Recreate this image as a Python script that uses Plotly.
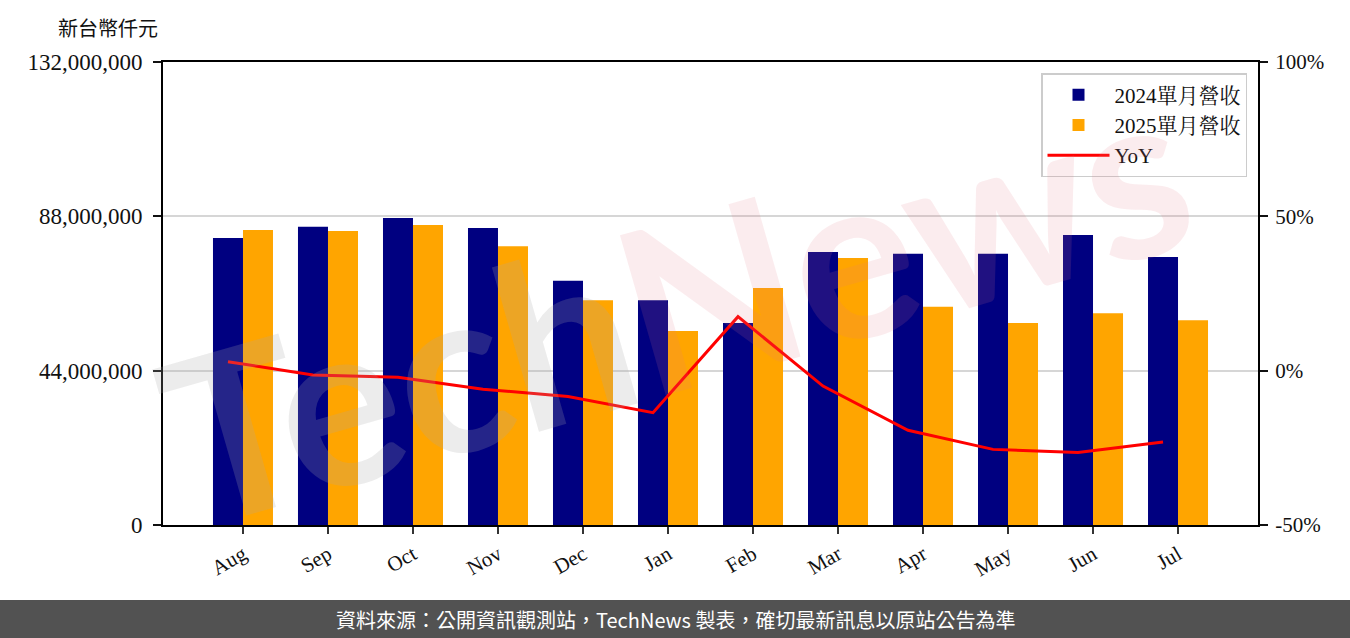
import plotly.graph_objects as go

months = ["Aug", "Sep", "Oct", "Nov", "Dec", "Jan", "Feb", "Mar", "Apr", "May", "Jun", "Jul"]
rev_2024 = [81.8e6, 85.0e6, 87.5e6, 84.7e6, 69.6e6, 64.1e6, 57.6e6, 77.8e6, 77.3e6, 77.3e6, 82.7e6, 76.4e6]
rev_2025 = [84.1e6, 83.8e6, 85.5e6, 79.5e6, 64.1e6, 55.3e6, 67.6e6, 76.1e6, 62.2e6, 57.6e6, 60.4e6, 58.4e6]
yoy = [2.9, -1.4, -2.1, -6.0, -8.4, -13.6, 17.5, -5.0, -19.3, -25.5, -26.5, -23.1]

left_ticks = [0, 44_000_000, 88_000_000, 132_000_000]
right_ticks = [-50, 0, 50, 100]

W, H = 1350, 638
L, R, T, B = 163, 92, 62, 113
pw, ph = W - L - R, H - T - B

serif = "Liberation Serif, Noto Serif CJK TC, Noto Sans CJK TC, serif"
sans = "Noto Sans CJK TC, Noto Sans, sans-serif"

BW = 0.353
x = list(range(len(months)))
line_x = [i - BW / 2 for i in x]

fig = go.Figure()
fig.add_trace(go.Bar(x=x, y=rev_2024, name="2024單月營收", marker_color="#000080",
                     width=BW, offset=-BW, marker_line_width=0))
fig.add_trace(go.Bar(x=x, y=rev_2025, name="2025單月營收", marker_color="#FFA500",
                     width=BW, offset=0, marker_line_width=0))
fig.add_trace(go.Scatter(x=line_x, y=yoy, name="YoY", mode="lines", yaxis="y2",
                         line=dict(color="#FF0000", width=3)))

def px2x(p):
    return (p - L) / pw

def py2y(p):
    return (H - B - p) / ph

fig.update_layout(
    width=W, height=H,
    margin=dict(l=L, r=R, t=T, b=B),
    paper_bgcolor="white", plot_bgcolor="white",
    barmode="overlay",
    showlegend=True,
    font=dict(family=serif, size=20, color="#111"),
    xaxis=dict(
        tickmode="array", tickvals=x, ticktext=months, tickangle=-30,
        range=[-0.941, 11.941],
        showline=True, mirror=True, linecolor="black", linewidth=2,
        ticks="outside", ticklen=7, tickwidth=2, tickcolor="#333",
        showgrid=False, tickfont=dict(family=serif, size=21),
    ),
    yaxis=dict(
        range=[0, 132_000_000], tickmode="array", tickvals=left_ticks,
        ticktext=[f"{v:,}" for v in left_ticks],
        showline=True, linecolor="black", linewidth=2,
        ticks="outside", ticklen=8, tickwidth=2, tickcolor="#111",
        ticklabelstandoff=6,
        showgrid=True, gridcolor="#d6d6d6", gridwidth=1.5, zeroline=False,
        tickfont=dict(family=serif, size=23),
    ),
    yaxis2=dict(
        range=[-50, 100], tickmode="array", tickvals=right_ticks,
        ticktext=[f"{v}%" for v in right_ticks],
        overlaying="y", side="right",
        showline=True, linecolor="black", linewidth=2,
        ticks="outside", ticklen=8, tickwidth=2, tickcolor="#111",
        ticklabelstandoff=3,
        showgrid=False, zeroline=False,
        tickfont=dict(family=serif, size=21),
    ),
    legend=dict(
        x=px2x(1247), y=py2y(73), xanchor="right", yanchor="top",
        bgcolor="rgba(255,255,255,0.85)", bordercolor="#cccccc", borderwidth=1.5,
        font=dict(family=serif, size=21), itemwidth=62, tracegroupgap=0,
    ),
)

# footer band
fig.add_shape(type="rect", xref="paper", yref="paper",
              x0=px2x(0), x1=px2x(W), y0=py2y(H), y1=py2y(600),
              fillcolor="#525252", line_width=0, layer="above")
fig.add_annotation(xref="paper", yref="paper", x=px2x(W / 2), y=py2y(619),
                   text="資料來源：公開資訊觀測站，TechNews 製表，確切最新訊息以原站公告為準",
                   showarrow=False, font=dict(family=sans, size=20, color="white"),
                   xanchor="center", yanchor="middle")

# axis unit title
fig.add_annotation(xref="paper", yref="paper", x=px2x(108), y=py2y(27),
                   text="新台幣仟元", showarrow=False,
                   font=dict(family=sans, size=20, color="#111"),
                   xanchor="center", yanchor="middle")

# watermark
fig.add_annotation(xref="paper", yref="paper", x=px2x(675), y=py2y(300),
                   text="<b><span style='color:rgba(170,170,170,0.22)'>Tech</span>"
                        "<span style='color:rgba(225,120,135,0.14)'>News</span></b>",
                   showarrow=False, textangle=-16,
                   font=dict(family="Lato, sans-serif", size=230),
                   xanchor="center", yanchor="middle")

fig.write_html("out.html", config={"displayModeBar": False},
               post_script="document.body.style.margin='0';")
